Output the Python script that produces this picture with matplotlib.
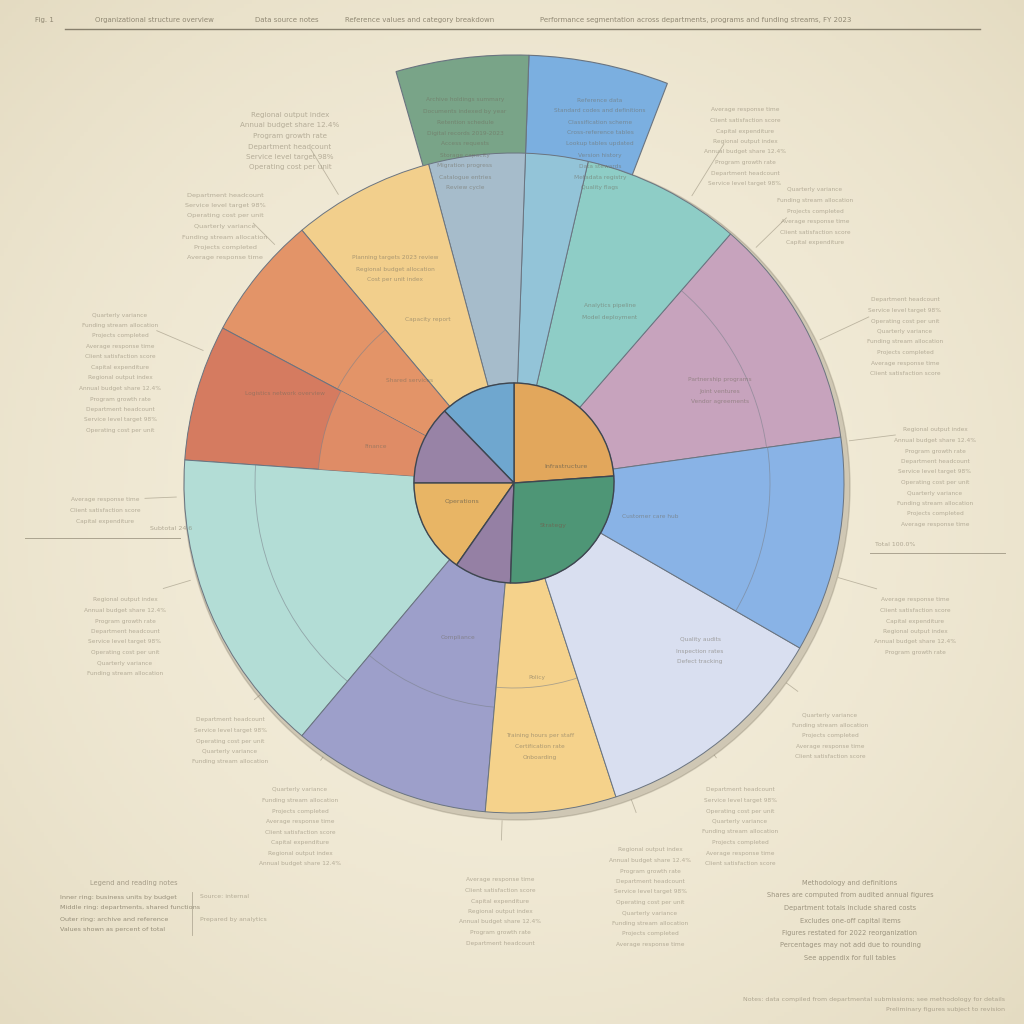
import numpy as np
import matplotlib.pyplot as plt
from matplotlib.patches import Circle, Arc

# ---------------- data ----------------
inner_labels = ["Infrastructure", "Platform", "Research", "Operations", "Support", "Strategy"]
inner_sizes = [86, 44, 46, 55, 33, 96]
inner_colors = ["#e2a75c", "#6fa7cf", "#9883a6", "#e8b565", "#9580a4", "#4e9676"]
inner_start = 4

mid_labels = ["Partnerships", "Analytics", "Cloud", "Network", "Planning", "Logistics",
              "Finance", "Human resources", "Compliance", "Training", "Quality", "Customer care"]
mid_sizes = [41, 28, 11, 17, 25, 22, 24, 54, 35, 23, 42, 38]
mid_colors = ["#c7a3bd", "#8ecdc6", "#93c4d8", "#a6bccb", "#f2cf8c", "#e39468", "#d57b60",
              "#b3ddd6", "#9d9fca", "#f5d28b", "#d9dff0", "#89b3e6"]
mid_inner_colors = ["none", "none", "none", "none", "none", "none", "#df8c66",
                    "none", "none", "none", "none", "none"]
mid_split = [255, 0, 0, 0, 0, 200, 196, 259, 225, 205, 0, 256]
mid_start = 8

outer_labels = ["Reference", "Archive"]
outer_sizes = [19, 18, 323]
outer_colors = ["#7bafe0", "#79a488", "none"]
outer_start = 69

# ---------------- layout ----------------
CX, CY = 514, 1024 - 483
R_IN, R_MID, R_OUT0, R_OUT1 = 100, 330, 312, 428

fig = plt.figure(figsize=(10.24, 10.24), dpi=100)
ax = fig.add_axes([0, 0, 1, 1])

# background radial gradient
yy, xx = np.mgrid[0:256, 0:256]
d = np.sqrt((xx - 128) ** 2 + (yy - 128) ** 2) / 181.0
c0 = np.array([0.955, 0.930, 0.855])
c1 = np.array([0.895, 0.860, 0.760])
img = c0[None, None, :] * (1 - d[..., None] ** 2) + c1[None, None, :] * d[..., None] ** 2
ax.imshow(img, extent=[0, 1024, 0, 1024], origin="lower", zorder=0)

# outer extension
ow, _ = ax.pie(outer_sizes, colors=outer_colors, startangle=outer_start, counterclock=True,
               radius=R_OUT1, center=(CX, CY), frame=True,
               wedgeprops=dict(width=R_OUT1 - R_OUT0, edgecolor="#6a7480", linewidth=0.8))
ow[-1].set_visible(False)
for w in ow:
    w.set_zorder(2)

# shadow
ax.add_patch(Circle((CX + 3, CY - 4), R_MID + 3, color="#6d6553", alpha=0.25, zorder=2.5))

mw, _ = ax.pie(mid_sizes, colors=mid_colors, startangle=mid_start, counterclock=True,
               radius=R_MID, center=(CX, CY), frame=True,
               wedgeprops=dict(width=R_MID - R_IN, edgecolor="#6a7480", linewidth=0.7))
for w in mw:
    w.set_zorder(3)

# inner sub-part shading (only where it differs)
sw, _ = ax.pie(mid_sizes, colors=mid_inner_colors, startangle=mid_start, counterclock=True,
               radius=196, center=(CX, CY), frame=True,
               wedgeprops=dict(width=96, linewidth=0))
for w, c in zip(sw, mid_inner_colors):
    w.set_zorder(3.5)
    if c == "none":
        w.set_visible(False)

# faint internal arcs
cum = mid_start
for size, sp in zip(mid_sizes, mid_split):
    if sp:
        ax.add_patch(Arc((CX, CY), 2 * sp, 2 * sp, theta1=cum, theta2=cum + size,
                         color="#7a808a", lw=0.6, alpha=0.6, zorder=4))
    cum += size

iw, _ = ax.pie(inner_sizes, colors=inner_colors, startangle=inner_start, counterclock=True,
               radius=R_IN, center=(CX, CY), frame=True,
               wedgeprops=dict(edgecolor="#3e4650", linewidth=1.0))
for w in iw:
    w.set_zorder(5)

txtc = "#857c68"
# inner labels
for lab, xy in zip(["Infrastructure", "Operations", "Strategy"],
                   [(566, 1024 - 467), (462, 1024 - 502), (553, 1024 - 525)]):
    ax.text(*xy, lab, fontsize=4.5, color="#6e6450", ha="center", va="center", zorder=6, alpha=0.8)

# in-wedge note lines
wedge_notes = [
    (395, 258, ["Planning targets 2023 review", "Regional budget allocation", "Cost per unit index"]),
    (428, 320, ["Capacity report"]),
    (285, 393, ["Logistics network overview"]),
    (376, 446, ["Finance"]),
    (610, 306, ["Analytics pipeline", "Model deployment"]),
    (410, 380, ["Shared services"]),
    (720, 380, ["Partnership programs", "Joint ventures", "Vendor agreements"]),
    (650, 516, ["Customer care hub"]),
    (700, 640, ["Quality audits", "Inspection rates", "Defect tracking"]),
    (540, 735, ["Training hours per staff", "Certification rate", "Onboarding"]),
    (458, 637, ["Compliance"]),
    (537, 677, ["Policy"]),
    (465, 100, ["Archive holdings summary", "Documents indexed by year", "Retention schedule",
                "Digital records 2019-2023", "Access requests", "Storage capacity",
                "Migration progress", "Catalogue entries", "Review cycle"]),
    (600, 100, ["Reference data", "Standard codes and definitions", "Classification scheme",
                "Cross-reference tables", "Lookup tables updated", "Version history",
                "Data stewards", "Metadata registry", "Quality flags"]),
]
for x, y, lines in wedge_notes:
    for i, ln in enumerate(lines):
        ax.text(x, 1024 - y - i * 11, ln, fontsize=4.2, color="#6f6a5c", ha="center", va="center",
                alpha=0.55, zorder=6)

# surrounding annotation blocks
words = ["Regional output index", "Annual budget share 12.4%", "Program growth rate",
         "Department headcount", "Service level target 98%", "Operating cost per unit",
         "Quarterly variance", "Funding stream allocation", "Projects completed",
         "Average response time", "Client satisfaction score", "Capital expenditure"]
blocks = [
    (290, 115, 6, 1.0), (225, 195, 7, 0.9), (120, 315, 12, 0.8), (105, 500, 3, 0.8),
    (125, 600, 8, 0.8), (230, 720, 5, 0.8), (300, 790, 8, 0.8), (500, 880, 7, 0.8),
    (650, 850, 10, 0.8), (740, 790, 8, 0.8), (830, 715, 5, 0.8), (915, 600, 6, 0.8),
    (935, 430, 10, 0.8), (905, 300, 8, 0.8), (815, 190, 6, 0.8), (745, 110, 8, 0.8),
]
for k, (bx, by, n, s) in enumerate(blocks):
    for i in range(n):
        t = words[(k * 3 + i) % len(words)]
        ax.text(bx, 1024 - by - i * 10.5, t, fontsize=4.3 * s + 0.8, color=txtc, ha="center",
                va="center", alpha=0.55, zorder=1)
    vx, vy = bx - CX, (1024 - by) - CY
    dd = np.hypot(vx, vy)
    ux, uy = vx / dd, vy / dd
    ax.plot([CX + ux * (R_MID + 8), CX + ux * (dd - 40)], [CY + uy * (R_MID + 8), CY + uy * (dd - 40)],
            color="#9a927e", lw=0.6, alpha=0.6, zorder=1)

# side rules
ax.plot([25, 180], [1024 - 538, 1024 - 538], color="#8f8774", lw=0.7, alpha=0.7)
ax.plot([870, 1005], [1024 - 553, 1024 - 553], color="#8f8774", lw=0.7, alpha=0.7)
ax.text(150, 1024 - 530, "Subtotal 24.6", fontsize=4.5, color=txtc, alpha=0.6)
ax.text(875, 1024 - 546, "Total 100.0%", fontsize=4.5, color=txtc, alpha=0.6)

# header
ax.plot([65, 980], [1024 - 29, 1024 - 29], color="#6f6856", lw=1.0, alpha=0.8)
head = [(35, "Fig. 1"), (95, "Organizational structure overview"), (255, "Data source notes"),
        (345, "Reference values and category breakdown"),
        (540, "Performance segmentation across departments, programs and funding streams, FY 2023")]
for x, t in head:
    ax.text(x, 1024 - 20, t, fontsize=5.0, color="#7a725e", alpha=0.8, va="center")

# bottom-left legend block
bl = ["Inner ring: business units by budget",
      "Middle ring: departments, shared functions",
      "Outer ring: archive and reference",
      "Values shown as percent of total"]
ax.text(90, 1024 - 885, "Legend and reading notes", fontsize=4.8, color=txtc, alpha=0.7)
for i, t in enumerate(bl):
    ax.text(60, 1024 - 897 - i * 11, t, fontsize=4.6, color="#7a725e", alpha=0.75, va="center")
ax.plot([192, 192], [1024 - 892, 1024 - 935], color="#8f8774", lw=0.6, alpha=0.6)
for i, t in enumerate(["Source: internal", "Prepared by analytics"]):
    ax.text(200, 1024 - 897 - i * 22, t, fontsize=4.4, color=txtc, alpha=0.55, va="center")

# bottom-right block
br = ["Methodology and definitions", "Shares are computed from audited annual figures",
      "Department totals include shared costs", "Excludes one-off capital items",
      "Figures restated for 2022 reorganization", "Percentages may not add due to rounding",
      "See appendix for full tables"]
for i, t in enumerate(br):
    ax.text(850, 1024 - 883 - i * 12.5, t, fontsize=4.8, color="#7a725e", alpha=0.7,
            ha="center", va="center")
ax.text(1005, 1024 - 1000, "Notes: data compiled from departmental submissions; see methodology for details",
        fontsize=4.5, color=txtc, alpha=0.6, ha="right", va="center")
ax.text(1005, 1024 - 1010, "Preliminary figures subject to revision",
        fontsize=4.5, color=txtc, alpha=0.6, ha="right", va="center")

ax.set_xlim(0, 1024)
ax.set_ylim(0, 1024)
ax.set_aspect("equal")
ax.axis("off")
fig.savefig("out.png", dpi=100)
